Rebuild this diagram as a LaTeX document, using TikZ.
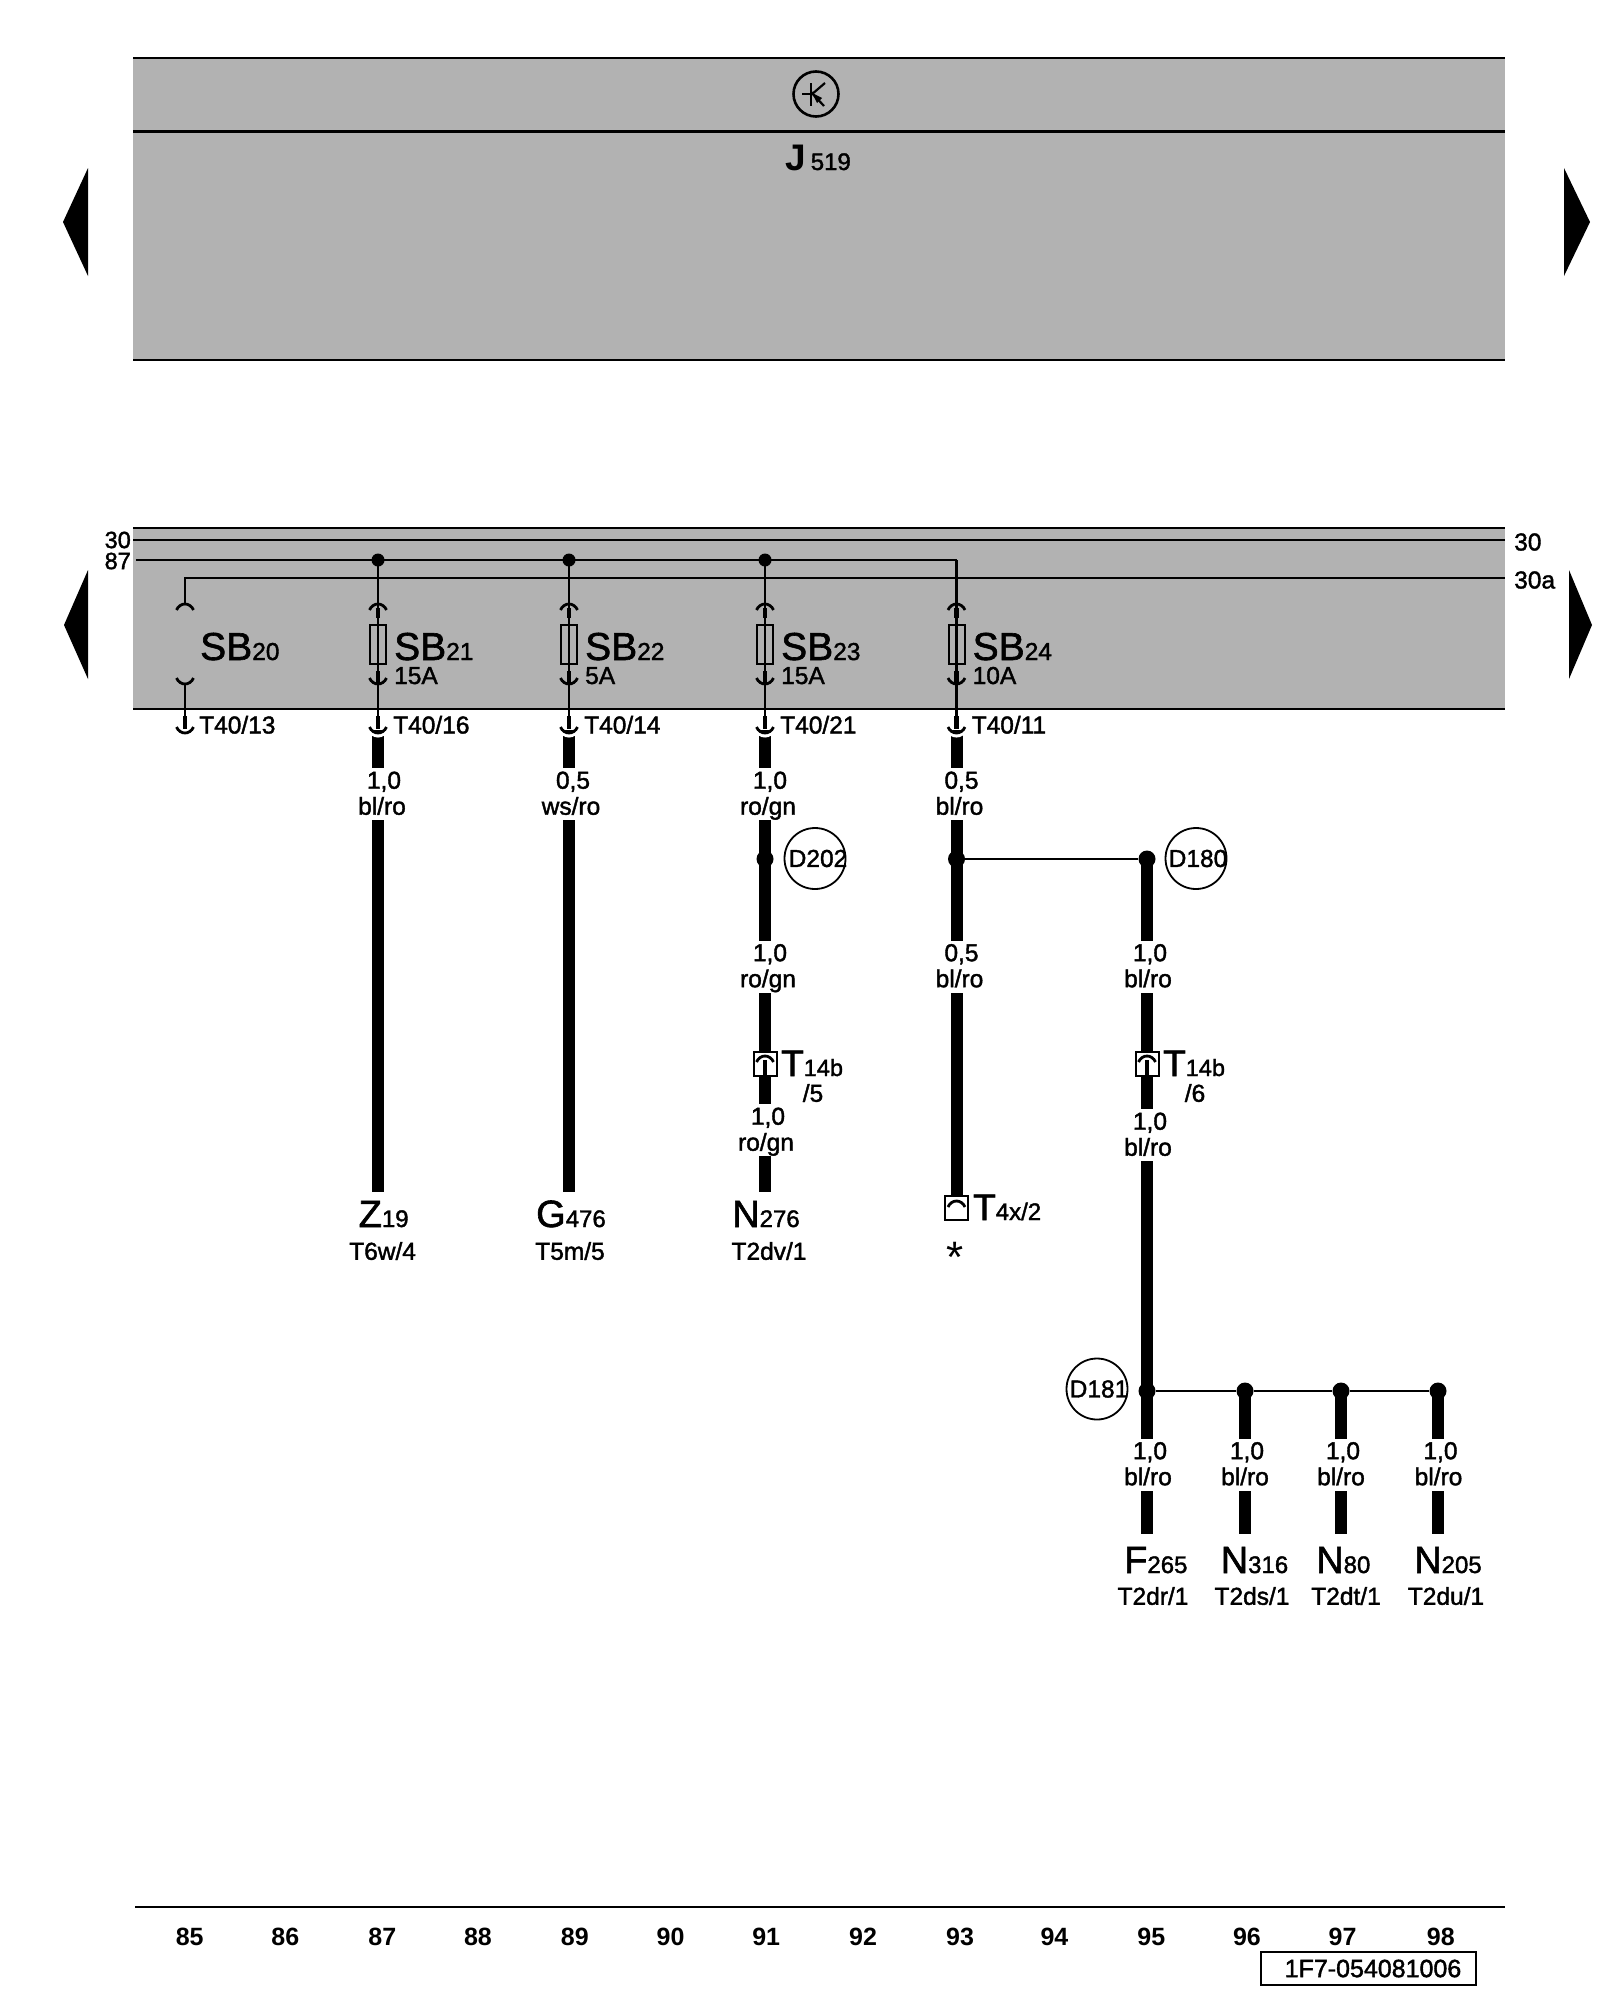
\documentclass[tikz,border=0pt]{standalone}
\usepackage{fontspec}
\setmainfont{Liberation Sans}
\newfontfamily\medf[FakeBold=1.6]{Liberation Sans}
\newcommand\bigsub[2]{{\fontsize{38}{38}\selectfont #1}{\fontsize{24}{24}\selectfont #2}}
\newcommand\sbsub[2]{{\fontsize{39}{39}\selectfont #1}{\fontsize{24.5}{24.5}\selectfont #2}}
\newcommand\wl[2]{\hspace*{4pt}\raisebox{-2.5pt}{#1}\strut\\\raisebox{-2.5pt}{#2}\strut}
\tikzset{
  thinw/.style={line width=2.2pt,black},
  thickw/.style={line width=12pt,black},
  stub/.style={line width=4.5pt,black},
  arcw/.style={line width=2.8pt,black},
  frame/.style={line width=2.6pt,black},
  lab/.style={inner sep=0pt,font=\medf\fontsize{24.5}{24.5}\selectfont},
  wlab/.style={inner sep=0pt,fill=white,align=center,minimum height=52pt,minimum width=60pt,font=\medf\fontsize{24.5}{26}\selectfont},
  big/.style={inner sep=0pt,anchor=base west,font=\medf},
  num/.style={inner sep=0pt,font=\bfseries\fontsize{25}{25}\selectfont},
  circ/.style={draw=black,line width=1.8pt,circle,minimum size=61pt,inner sep=0pt},
  dot/.style={fill=black,circle,minimum size=17pt,inner sep=0pt},
  sdot/.style={fill=black,circle,minimum size=13pt,inner sep=0pt},
  arrowhead/.style={fill=black,draw=none},
  connbox/.style={draw=black,line width=2pt,fill=white,minimum width=23pt,minimum height=24pt,inner sep=0pt},
  fuse/.style={draw=black,line width=2pt,minimum width=16pt,minimum height=39pt,inner sep=0pt},
}
\newcommand\capat[2]{\draw[arcw] (#1-8.5,#2+3) .. controls (#1-5,#2-5) and (#1+5,#2-5) .. (#1+8.5,#2+3);}
\newcommand\cupat[2]{\draw[arcw] (#1-8.5,#2-3) .. controls (#1-5,#2+5) and (#1+5,#2+5) .. (#1+8.5,#2-3);}
\newcommand\whitecup[2]{\draw[white,line width=5pt] (#1-8.5,#2-3) .. controls (#1-5,#2+5) and (#1+5,#2+5) .. (#1+8.5,#2-3);}
\begin{document}
\begin{tikzpicture}[x=1pt,y=-1pt]
\useasboundingbox (0,0) rectangle (1600,2000);
\fill[white] (0,0) rectangle (1600,2000);
% top box
\fill[black!30] (133,58) rectangle (1505,360);
\draw[frame] (133,58) -- (1505,58);
\draw[frame] (133,131.5) -- (1505,131.5);
\draw[frame] (133,360) -- (1505,360);
\node[draw=black,line width=2.6pt,circle,minimum size=45pt,inner sep=0pt] (tr) at (816,94) {};
\draw[line width=2.2pt] (802,94) -- (811,94);
\draw[line width=2.2pt] (811,83) -- (811,106);
\draw[line width=2.2pt] (811,95) -- (825,83);
\draw[line width=2.2pt] (811,92) -- (824,106);
\fill (812,93) -- (822,98) -- (817,103) -- cycle;
\node[inner sep=0pt,anchor=base west] (j519) at (785,170) {{\bfseries\fontsize{37}{37}\selectfont J}\hspace{5pt}{\medf\fontsize{24}{24}\selectfont 519}};
% side arrows
\fill[arrowhead] (63,222) -- (88,168) -- (88,276) -- cycle;
\fill[arrowhead] (1590,222) -- (1564,168) -- (1564,276) -- cycle;
\fill[arrowhead] (64,625) -- (88,570) -- (88,679) -- cycle;
\fill[arrowhead] (1592,625) -- (1569,570) -- (1569,679) -- cycle;
% lower box
\fill[black!30] (133,528) rectangle (1505,709);
\draw[frame] (133,528) -- (1505,528);
\draw[frame] (133,709) -- (1505,709);
\coordinate (l30a) at (133,540);
\coordinate (l30b) at (1505,540);
\coordinate (l87a) at (136,560);
\coordinate (c87e) at (956.5,560);
\coordinate (la) at (185,578);
\coordinate (lb) at (1505,578);
\draw[thinw] (l30a) -- (l30b);
\draw[thinw] (l87a) -- (c87e);
\draw[thinw] (185,605) coordinate (sb20t) -- (la) -- (lb);
\node[lab,font=\medf\fontsize{23.5}{23.5}\selectfont,anchor=east] (t30l) at (131,540) {30};
\node[lab,font=\medf\fontsize{23.5}{23.5}\selectfont,anchor=east] (t87l) at (131,561) {87};
\node[lab,anchor=west] (t30r) at (1514,542) {30};
\node[lab,anchor=west] (t30ar) at (1514,580) {30a};
% SB20
\capat{185}{607}
\cupat{185}{681}
\draw[thinw] (185,683) -- (185,720);
\draw[stub] (185,716) -- (185,729);
\cupat{185}{730}
\node[big] (sb20) at (200,660) {\sbsub{SB}{20}};
\node[lab,anchor=base west] (t4013) at (199,733.5) {T40/13};
% wires
\coordinate (a21) at (378,730); \coordinate (b21) at (378,1192);
\coordinate (a22) at (569,730); \coordinate (b22) at (569,1192);
\coordinate (a23) at (765,730); \coordinate (b23) at (765,1192);
\coordinate (a24) at (956.5,730); \coordinate (b24) at (956.5,1198);
\coordinate (a25) at (1147,859); \coordinate (b25) at (1147,1534);
\coordinate (a26) at (1245,1391); \coordinate (b26) at (1245,1534);
\coordinate (a27) at (1341,1391); \coordinate (b27) at (1341,1534);
\coordinate (a28) at (1438,1391); \coordinate (b28) at (1438,1534);
\foreach \w in {21,...,28} {\draw[thickw] (a\w) -- (b\w);}
% fused columns
\foreach \x/\n/\a in {378/21/15A, 569/22/5A, 765/23/15A, 956.5/24/10A}{
  \coordinate (p\n) at (\x,560);
  \coordinate (q\n) at (\x,720);
  \draw[thinw] (p\n) -- (q\n);
  \draw[stub] (\x,608) -- (\x,618);
  \draw[stub] (\x,671) -- (\x,683);
  \draw[stub] (\x,716) -- (\x,729);
  \capat{\x}{607}
  \cupat{\x}{681}
  \whitecup{\x}{732}
  \cupat{\x}{730}
  \node[fuse] (f\n) at (\x,644.5) {};
  \node[big] (sb\n) at (\x+16,660) {\sbsub{SB}{\n}};
  \node[lab,anchor=base west] (amp\n) at (\x+16,684) {\a};
  \node[lab,anchor=base west] (tp\n) at (\x+15,733.5) {T40/\ifnum\n=21 16\fi\ifnum\n=22 14\fi\ifnum\n=23 21\fi\ifnum\n=24 11\fi};
}
\node[sdot] (j21) at (378,560) {};
\node[sdot] (j22) at (569,560) {};
\node[sdot] (j23) at (765,560) {};
% junctions
\node[dot] (d202j) at (765,859) {};
\node[dot] (d180a) at (956.5,859) {};
\node[dot] (d180b) at (1147,859) {};
\draw[thinw] (d180a) -- (d180b);
\node[dot] (d181a) at (1147,1391) {};
\node[dot] (d181b) at (1245,1391) {};
\node[dot] (d181c) at (1341,1391) {};
\node[dot] (d181d) at (1438,1391) {};
\draw[thinw] (d181a) -- (d181b);
\draw[thinw] (d181b) -- (d181c);
\draw[thinw] (d181c) -- (d181d);
\node[circ] (d202) at (815,858.5) {};
\node[lab] at (818,858.5) {D202};
\node[circ] (d180) at (1196,858.5) {};
\node[lab] at (1198,858.5) {D180};
\node[circ] (d181) at (1097,1389) {};
\node[lab] at (1099,1389) {D181};
% wire labels
\node[wlab] (w1) at (382,794) {\wl{1,0}{bl/ro}};
\node[wlab] (w2) at (571,794) {\wl{0,5}{ws/ro}};
\node[wlab] (w3) at (768,794) {\wl{1,0}{ro/gn}};
\node[wlab] (w4) at (959.5,794) {\wl{0,5}{bl/ro}};
\node[wlab] (w5) at (768,966.5) {\wl{1,0}{ro/gn}};
\node[wlab] (w6) at (959.5,966.5) {\wl{0,5}{bl/ro}};
\node[wlab] (w7) at (1148,966.5) {\wl{1,0}{bl/ro}};
\node[wlab] (w8) at (766,1130) {\wl{1,0}{ro/gn}};
\node[wlab] (w9) at (1148,1135) {\wl{1,0}{bl/ro}};
\node[wlab] (w10) at (1148,1464.5) {\wl{1,0}{bl/ro}};
\node[wlab] (w11) at (1245,1464.5) {\wl{1,0}{bl/ro}};
\node[wlab] (w12) at (1341,1464.5) {\wl{1,0}{bl/ro}};
\node[wlab] (w13) at (1438.5,1464.5) {\wl{1,0}{bl/ro}};
% T14b connectors
\foreach \x/\n/\t in {765/a/5,1147/b/6}{
  \node[connbox] (box\n) at (\x,1064) {};
  \draw[stub] (\x,1060) -- (\x,1075);
  \capat{\x}{1059}
  \node[big] (t14\n) at (\x+16,1076) {{\fontsize{37}{37}\selectfont T}{\fontsize{23.5}{23.5}\selectfont 14b}};
  \node[lab] (tn\n) at (\x+48,1093) {/\t};
}
% T4x/2
\node[connbox] (box4x) at (956.5,1208) {};
\capat{956.5}{1204}
\node[big] (t4x) at (973,1220) {{\fontsize{37}{37}\selectfont T}{\fontsize{24}{24}\selectfont 4x/2}};
\node[inner sep=0pt,font=\fontsize{44}{44}\selectfont] (star) at (955,1257) {*};
% components
\node[big] (z19) at (358.5,1227) {\bigsub{Z}{19}};
\node[big] (g476) at (536,1227) {\bigsub{G}{476}};
\node[big] (n276) at (732,1227) {\bigsub{N}{276}};
\node[big] (f265) at (1124,1573) {\bigsub{F}{265}};
\node[big] (n316) at (1220.5,1573) {\bigsub{N}{316}};
\node[big] (n80) at (1316,1573) {\bigsub{N}{80}};
\node[big] (n205) at (1414,1573) {\bigsub{N}{205}};
\node[lab] (pz) at (382.6,1251) {T6w/4};
\node[lab] (pg) at (570,1251) {T5m/5};
\node[lab] (pn) at (769,1251) {T2dv/1};
\node[lab] (p1) at (1153,1596) {T2dr/1};
\node[lab] (p2) at (1252,1596) {T2ds/1};
\node[lab] (p3) at (1346,1596) {T2dt/1};
\node[lab] (p4) at (1446,1596) {T2du/1};
% bottom
\coordinate (ba) at (135,1907);
\coordinate (bb) at (1505,1907);
\draw[frame] (ba) -- (bb);
\foreach \x/\t in {148/85,223/86,299/87,374/88,450/89,525/90,600/91,676/92,752/93,826/94,902/95,977/96,1052/97,1129/98}{
  \node[num] (n\t) at (\x*1.2753+1,1936.5) {\t};
}
\node[draw=black,line width=2.6pt,minimum width=215pt,minimum height=33pt,inner sep=0pt] (stamp) at (1368.5,1968.5) {};
\node[lab,font=\medf\fontsize{25}{25}\selectfont] at (1373,1968.5) {1F7-054081006};
\end{tikzpicture}
\end{document}
